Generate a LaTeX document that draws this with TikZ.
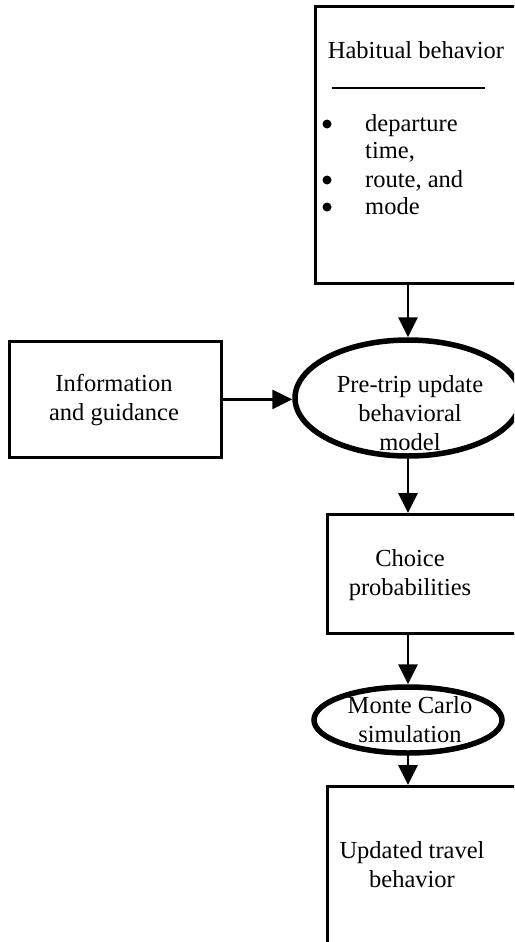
\documentclass[tikz,border=0pt]{standalone}
\usepackage{fontspec}
\setmainfont{Liberation Serif}
\usetikzlibrary{arrows.meta,shapes.geometric}
\begin{document}
\begin{tikzpicture}[x=1pt,y=-1pt,
  font=\fontsize{24.5}{29}\selectfont,
  box/.style={draw, line width=2.8pt, rectangle, inner sep=0pt},
  oval/.style={draw, line width=5.5pt, ellipse, inner sep=0pt},
  arr/.style={line width=2.8pt, -{Triangle[length=20pt,width=19pt]}},
  lbl/.style={align=center, inner sep=0pt},
  item/.style={anchor=base west, inner sep=0pt},
  dot/.style={circle, fill, inner sep=0pt, minimum size=9pt}]
\useasboundingbox (0,0) rectangle (514,942);
\clip (0,0) rectangle (514,942);
% top box
\node[box, minimum width=212pt, minimum height=277pt, anchor=north west] (habit) at (314,5) {};
\node[anchor=base, inner sep=0pt] (habtitle) at (416,59) {Habitual behavior};
\coordinate (divl) at (332,88);
\coordinate (divr) at (485,88);
\draw[line width=2.8pt] (divl) -- (divr);
\node[dot] (b1) at (327,124) {};
\node[item] (t1) at (365,131) {departure};
\node[item] (t2) at (365,158) {time,};
\node[dot] (b3) at (327,180) {};
\node[item] (t3) at (365,187) {route, and};
\node[dot] (b4) at (327,207) {};
\node[item] (t4) at (365,214) {mode};
% left box
\node[box, minimum width=212pt, minimum height=116pt, anchor=north west] (info) at (8,340) {};
\node[lbl] (infotxt) at (114,400) {Information\\and guidance};
% ellipse 1
\node[oval, minimum width=226pt, minimum height=116pt] (pre) at (408,398) {};
\node[lbl] (pretxt) at (410,413) {Pre-trip update\\behavioral\\model};
% choice box
\node[box, minimum width=200pt, minimum height=119pt, anchor=north west] (choice) at (326,513) {};
\node[lbl] (choicetxt) at (410,575) {Choice\\probabilities};
% ellipse 2
\node[oval, minimum width=188pt, minimum height=66pt] (mc) at (408,720) {};
\node[lbl] (mctxt) at (410,720) {Monte Carlo\\simulation};
% updated box
\node[box, minimum width=200pt, minimum height=200pt, anchor=north west] (upd) at (326,785) {};
\node[lbl] (updtxt) at (412,865) {Updated travel\\behavior};
% arrows
\draw[arr] (habit.south -| pre.north) -- (pre.north);
\draw[arr] (info.east) -- (info.east -| pre.west);
\draw[arr] (pre.south) -- (pre.south |- choice.north);
\draw[arr] (choice.south -| mc.north) -- (mc.north);
\draw[arr] (mc.south) -- (mc.south |- upd.north);
\end{tikzpicture}
\end{document}
